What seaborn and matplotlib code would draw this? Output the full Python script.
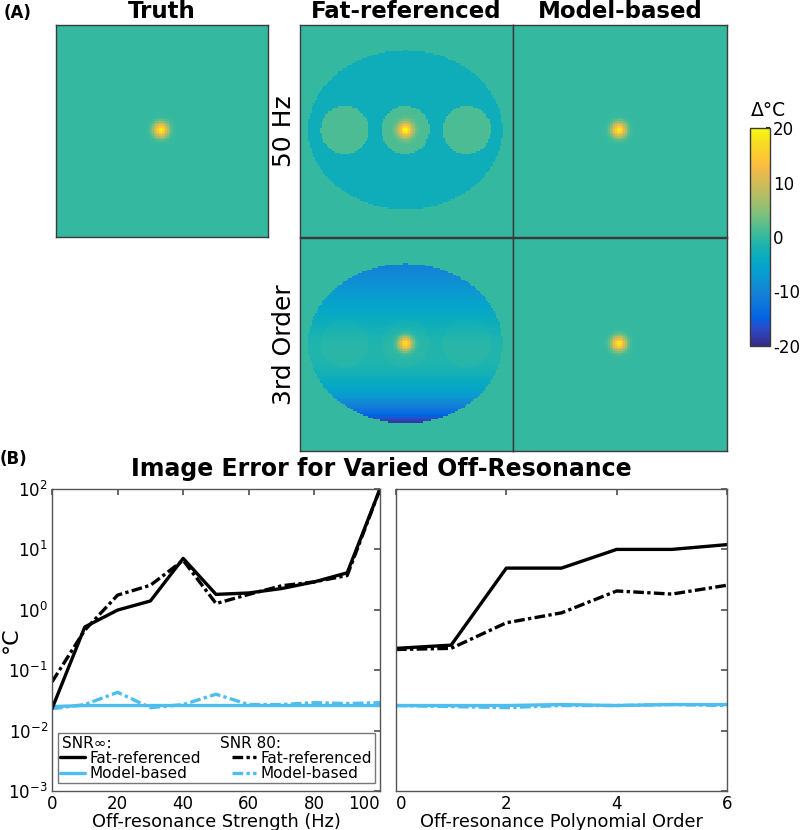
import numpy as np
import matplotlib
matplotlib.use("Agg")
import matplotlib.pyplot as plt
from matplotlib.colors import LinearSegmentedColormap
from matplotlib.lines import Line2D
from matplotlib.ticker import LogLocator, NullLocator
import seaborn as sns

# ---- (B) error curves ----
strength_hz = [0, 10, 20, 30, 40, 50, 60, 70, 80, 90, 100]
fat_snr_inf = [0.023, 0.52, 0.99, 1.4, 7.1, 1.8, 1.9, 2.25, 2.9, 4.1, 100]
fat_snr_80 = [0.064, 0.46, 1.75, 2.55, 6.6, 1.27, 1.8, 2.5, 2.9, 3.7, 100]
model_snr_inf = [0.025, 0.026, 0.026, 0.026, 0.026, 0.026, 0.026, 0.026, 0.026, 0.026, 0.026]
model_snr_80 = [0.023, 0.027, 0.043, 0.024, 0.027, 0.040, 0.027, 0.027, 0.029, 0.028, 0.029]

poly_order = [0, 1, 2, 3, 4, 5, 6]
fat_order_inf = [0.23, 0.26, 4.9, 4.9, 10.0, 10.0, 12.0]
fat_order_80 = [0.22, 0.23, 0.61, 0.89, 2.05, 1.82, 2.55]
model_order_inf = [0.026, 0.026, 0.026, 0.027, 0.026, 0.027, 0.027]
model_order_80 = [0.026, 0.025, 0.024, 0.026, 0.026, 0.027, 0.026]

# ---- (A) phantom description (fractions of the image) ----
grid_n = 128
hotspot_xy = (0.495, 0.495)
hotspot_peak = 19.0
hotspot_sigma = 0.024
ellipse_xy = (0.495, 0.495)
ellipse_radii = (0.456, 0.374)
ellipse_level_50hz = -3.0
vial_x = [0.21, 0.495, 0.784]
vial_radius = 0.113
vial_level = 1.5
vial_offset_3rd = 0.6
# 3rd order field: value vs. normalised height inside the ellipse (top=-1)
order3_rows = [-1.0, -0.5, 0.0, 0.5, 1.0]
order3_levels = [-10.5, -5.5, -1.5, -4.0, -19.0]

col_titles = ["Truth", "Fat-referenced", "Model-based"]
row_titles = ["50 Hz", "3rd Order"]
cbar_ticks = [-20, -10, 0, 10, 20]

# matlab parula, sampled from the 64 entry table (index, rgb)
parula_idx = [0, 5, 8, 12, 15, 19, 22, 25, 28, 31, 32, 34, 37, 40, 43, 46, 49, 52, 55, 58, 61, 63]
parula_rgb = [
    [0.2081, 0.1663, 0.5292], [0.1707, 0.2919, 0.7792], [0.0117, 0.3875, 0.8820],
    [0.0498, 0.4586, 0.8641], [0.0779, 0.5040, 0.8384], [0.0488, 0.5772, 0.8228],
    [0.0239, 0.6287, 0.8038], [0.0267, 0.6642, 0.7607], [0.0843, 0.6928, 0.7062],
    [0.1801, 0.7177, 0.6424], [0.2178, 0.7250, 0.6193], [0.3022, 0.7376, 0.5712],
    [0.4420, 0.7481, 0.5033], [0.5709, 0.7485, 0.4494], [0.6834, 0.7435, 0.4044],
    [0.7858, 0.7356, 0.3633], [0.8824, 0.7274, 0.3217], [0.9739, 0.7314, 0.2666],
    [0.9955, 0.7861, 0.1967], [0.9697, 0.8481, 0.1475], [0.9598, 0.9218, 0.0948],
    [0.9763, 0.9831, 0.0538],
]
parula = LinearSegmentedColormap.from_list(
    "parula", [(i / 63, c) for i, c in zip(parula_idx, parula_rgb)])

sns.set_theme(style="white")
plt.rcParams["font.family"] = ["DejaVu Sans"]
plt.rcParams["axes.unicode_minus"] = False
plt.rcParams["text.color"] = "black"
plt.rcParams["axes.labelcolor"] = "black"

edge = "#3a3a3a"
blue = (0.30, 0.745, 0.933)
dashdot = (0, (3.2, 1.0, 1.0, 1.0))


# build the maps
c = (np.arange(grid_n) + 0.5) / grid_n
xx, yy = np.meshgrid(c, c)
hotspot = hotspot_peak * np.exp(-((xx - hotspot_xy[0]) ** 2 + (yy - hotspot_xy[1]) ** 2)
                                / (2 * hotspot_sigma ** 2))
inside = ((xx - ellipse_xy[0]) / ellipse_radii[0]) ** 2 + ((yy - ellipse_xy[1]) / ellipse_radii[1]) ** 2 <= 1
vials = np.zeros_like(xx, dtype=bool)
for vx in vial_x:
    vials |= (xx - vx) ** 2 + (yy - ellipse_xy[1]) ** 2 <= vial_radius ** 2

truth = hotspot.copy()
fat_50 = np.where(inside, ellipse_level_50hz, 0.0)
fat_50[vials] = vial_level
fat_50 = fat_50 + hotspot

coef = np.polyfit(order3_rows, order3_levels, 3)
v = (yy - ellipse_xy[1]) / ellipse_radii[1]
fat_3rd = np.where(inside, np.polyval(coef, v), 0.0)
fat_3rd[vials] += vial_offset_3rd
fat_3rd = fat_3rd + hotspot
model_map = hotspot.copy()

fig = plt.figure(figsize=(8, 8.3), dpi=100)


def px(l, t, r, b):
    return [l / 800, 1 - b / 830, (r - l) / 800, (b - t) / 830]


ax_truth = fig.add_axes(px(56, 25, 268, 237))
ax_f50 = fig.add_axes(px(300, 25, 513, 237))
ax_m50 = fig.add_axes(px(513, 25, 727, 237))
ax_f3 = fig.add_axes(px(300, 238, 513, 451))
ax_m3 = fig.add_axes(px(513, 238, 727, 451))
cax = fig.add_axes(px(750, 128, 770, 346))


def show_map(ax, img, cbar_ax=None):
    sns.heatmap(img, ax=ax, cmap=parula, vmin=-20, vmax=20,
                cbar=cbar_ax is not None, cbar_ax=cbar_ax,
                xticklabels=False, yticklabels=False, rasterized=True)
    for s in ax.spines.values():
        s.set_visible(True)
        s.set_color(edge)
        s.set_linewidth(1.0)


show_map(ax_truth, truth)
show_map(ax_f50, fat_50, cax)
show_map(ax_m50, model_map)
show_map(ax_f3, fat_3rd)
show_map(ax_m3, model_map)

for ax, t in zip([ax_truth, ax_f50, ax_m50], col_titles):
    ax.set_title(t, fontsize=16.5, fontweight="bold", pad=5)
ax_f50.set_ylabel(row_titles[0], fontsize=18, labelpad=3)
ax_f3.set_ylabel(row_titles[1], fontsize=18, labelpad=3)

cb = ax_f50.collections[0].colorbar
cb.set_ticks(cbar_ticks)
cb.outline.set_edgecolor(edge)
cb.outline.set_linewidth(1.0)
cax.tick_params(direction="in", length=3, labelsize=12, colors="black", pad=2)
fig.text(768 / 800, 1 - 110 / 830, "Δ°C", fontsize=13.5, ha="center", va="center")

fig.text(0.004, 1 - 13 / 830, "(A)", fontsize=12, fontweight="bold", va="center")
fig.text(0.0, 1 - 459 / 830, "(B)", fontsize=12, fontweight="bold", va="center")

# ---- (B) line plots ----
ax_l = fig.add_axes(px(52, 489, 380, 791))
ax_r = fig.add_axes(px(396, 489, 727, 791))

for ax, x, fi, f8, mi, m8 in [
    (ax_l, strength_hz, fat_snr_inf, fat_snr_80, model_snr_inf, model_snr_80),
    (ax_r, poly_order, fat_order_inf, fat_order_80, model_order_inf, model_order_80),
]:
    sns.lineplot(x=x, y=mi, ax=ax, color=blue, linewidth=2.4)
    sns.lineplot(x=x, y=m8, ax=ax, color=blue, linewidth=2.4, linestyle=dashdot)
    sns.lineplot(x=x, y=fi, ax=ax, color="black", linewidth=2.4)
    sns.lineplot(x=x, y=f8, ax=ax, color="black", linewidth=2.4, linestyle=dashdot)
    ax.set_yscale("log")
    ax.set_ylim(1e-3, 1e2)
    ax.yaxis.set_major_locator(LogLocator(base=10, numticks=10))
    ax.yaxis.set_minor_locator(NullLocator())
    ax.tick_params(direction="in", length=4, top=True, right=True,
                   labelsize=12, colors="#555555", labelcolor="black", pad=3)
    for s in ax.spines.values():
        s.set_color("#555555")
        s.set_linewidth(1.0)
    ax.grid(False)

ax_l.set_xlim(0, 100)
ax_l.set_xticks([0, 20, 40, 60, 80, 100])
ax_r.set_xlim(0, 6)
ax_r.set_xticks([0, 2, 4, 6])
ax_r.tick_params(labelleft=False)
# keep the end labels inside their own axes, like the original
ax_l.xaxis.get_major_ticks()[-1].label1.set_horizontalalignment("right")
ax_r.xaxis.get_major_ticks()[0].label1.set_horizontalalignment("left")

ax_l.set_xlabel("Off-resonance Strength (Hz)", fontsize=12.8, labelpad=0)
ax_r.set_xlabel("Off-resonance Polynomial Order", fontsize=12.8, labelpad=0)
ax_l.set_ylabel("°C", fontsize=16)
ax_l.yaxis.set_label_coords(-0.095, 0.5)
fig.text(381 / 800, 1 - 476 / 830, "Image Error for Varied Off-Resonance",
         fontsize=17, fontweight="bold", ha="center", va="baseline")

blank = Line2D([], [], color="none")
handles = [blank,
           Line2D([], [], color="black", lw=2.4),
           Line2D([], [], color=blue, lw=2.4),
           blank,
           Line2D([], [], color="black", lw=2.4, linestyle=dashdot),
           Line2D([], [], color=blue, lw=2.4, linestyle=dashdot)]
labels = [" ", "Fat-referenced", "Model-based", " ", "Fat-referenced", "Model-based"]
leg = ax_l.legend(handles, labels, ncol=2, loc="lower left",
                  bbox_to_anchor=(0.018, 0.026, 0.966, 0.159), mode="expand",
                  fontsize=11, frameon=True, fancybox=False, edgecolor="#555555",
                  borderpad=0.15, labelspacing=0.02, handlelength=1.6, handletextpad=0.3,
                  columnspacing=1.0, borderaxespad=0)
leg.get_frame().set_linewidth(1.0)
ax_l.text(0.03, 0.157, "SNR∞:", transform=ax_l.transAxes, fontsize=11, va="center", zorder=10)
ax_l.text(0.512, 0.157, "SNR 80:", transform=ax_l.transAxes, fontsize=11, va="center", zorder=10)

fig.savefig("out.png", dpi=100)
